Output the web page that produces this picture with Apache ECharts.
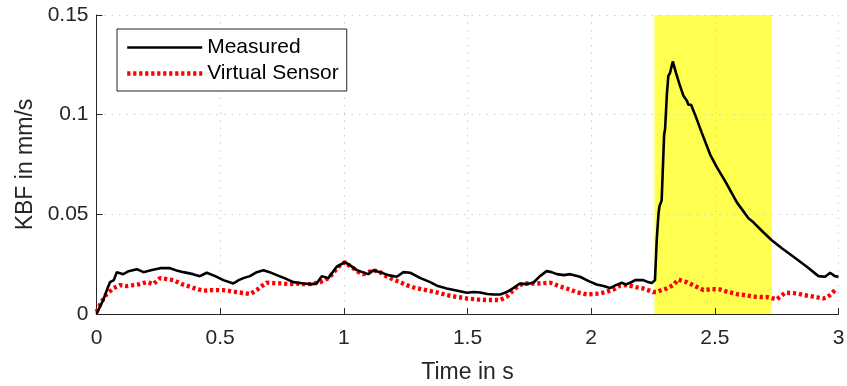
<!DOCTYPE html>
<html>
<head>
<meta charset="utf-8">
<script src="https://cdn.jsdelivr.net/npm/echarts@6/dist/echarts.min.js"></script>
<style>
html,body{margin:0;padding:0;background:#fff;}
#chart{width:847px;height:386px;}
</style>
</head>
<body>
<div id="chart"></div>
<script>
const xTicks = [0, 0.5, 1, 1.5, 2, 2.5, 3];
const yTicks = [0, 0.05, 0.1, 0.15];
const seriesNames = ['Measured', 'Virtual Sensor'];
const highlightRange = [2.256, 2.729];

const measuredT = [0,0.027,0.045,0.055,0.07,0.082,0.108,0.13,0.163,0.19,0.22,0.257,0.297,0.32,0.351,0.39,0.418,0.446,0.48,0.513,0.553,0.575,0.594,0.62,0.648,0.675,0.70,0.729,0.76,0.796,0.836,0.870,0.890,0.911,0.937,0.955,0.971,1.005,1.03,1.052,1.075,1.099,1.119,1.146,1.18,1.214,1.241,1.268,1.31,1.349,1.38,1.416,1.46,1.497,1.525,1.551,1.58,1.605,1.632,1.659,1.685,1.712,1.74,1.766,1.793,1.82,1.84,1.861,1.89,1.915,1.955,1.99,2.022,2.05,2.076,2.1,2.124,2.14,2.16,2.178,2.211,2.23,2.245,2.258,2.265,2.272,2.276,2.285,2.292,2.295,2.299,2.306,2.312,2.319,2.33,2.343,2.357,2.373,2.387,2.393,2.404,2.42,2.447,2.481,2.508,2.548,2.589,2.636,2.656,2.696,2.73,2.771,2.818,2.872,2.919,2.946,2.966,2.985,3.0];
const measuredV = [0,0.007,0.013,0.016,0.017,0.021,0.020,0.0215,0.0225,0.021,0.022,0.023,0.023,0.022,0.021,0.020,0.019,0.0207,0.019,0.017,0.0153,0.017,0.018,0.019,0.021,0.022,0.021,0.0195,0.018,0.016,0.0153,0.015,0.0153,0.019,0.018,0.021,0.0237,0.026,0.024,0.022,0.021,0.020,0.022,0.021,0.0195,0.0187,0.021,0.0207,0.018,0.016,0.014,0.0128,0.0117,0.0107,0.011,0.0108,0.010,0.0098,0.0098,0.011,0.013,0.0153,0.015,0.0157,0.019,0.0215,0.021,0.020,0.0195,0.020,0.0187,0.0165,0.0148,0.014,0.013,0.0145,0.0157,0.0148,0.0158,0.017,0.017,0.016,0.0155,0.017,0.037,0.050,0.054,0.057,0.080,0.090,0.093,0.110,0.1195,0.121,0.1267,0.121,0.1153,0.1095,0.107,0.105,0.105,0.100,0.091,0.080,0.0737,0.0653,0.056,0.048,0.046,0.041,0.037,0.033,0.0287,0.0237,0.019,0.0187,0.0207,0.019,0.0187];

const virtualT = [0,0.02,0.041,0.07,0.095,0.12,0.149,0.175,0.203,0.23,0.257,0.285,0.311,0.345,0.378,0.405,0.432,0.47,0.513,0.54,0.567,0.595,0.621,0.648,0.668,0.688,0.72,0.755,0.78,0.809,0.835,0.863,0.885,0.904,0.925,0.944,0.96,0.978,1.005,1.02,1.038,1.06,1.079,1.1,1.119,1.146,1.17,1.2,1.227,1.254,1.29,1.321,1.37,1.416,1.46,1.497,1.54,1.578,1.605,1.632,1.659,1.685,1.705,1.726,1.75,1.78,1.81,1.834,1.87,1.901,1.94,1.982,2.01,2.036,2.06,2.09,2.117,2.144,2.18,2.211,2.251,2.265,2.285,2.305,2.332,2.352,2.37,2.387,2.42,2.454,2.49,2.521,2.555,2.589,2.62,2.656,2.685,2.71,2.735,2.75,2.768,2.784,2.81,2.831,2.86,2.885,2.915,2.939,2.955,2.966,2.986,2.995];
const virtualV = [0.001,0.006,0.010,0.013,0.0145,0.014,0.0145,0.015,0.016,0.015,0.018,0.0175,0.017,0.015,0.0137,0.0125,0.0117,0.012,0.012,0.0115,0.011,0.0105,0.010,0.012,0.014,0.0157,0.0155,0.0153,0.015,0.0153,0.015,0.015,0.0155,0.016,0.017,0.0187,0.021,0.0237,0.026,0.0245,0.023,0.021,0.020,0.021,0.022,0.021,0.019,0.0173,0.016,0.0145,0.013,0.0123,0.011,0.0095,0.0085,0.0078,0.0073,0.007,0.007,0.007,0.0087,0.012,0.014,0.0153,0.0153,0.0153,0.0155,0.0157,0.014,0.0128,0.011,0.0098,0.010,0.0103,0.011,0.0123,0.0142,0.0145,0.0135,0.0128,0.011,0.011,0.012,0.0128,0.0145,0.0173,0.0165,0.016,0.014,0.012,0.0125,0.0123,0.011,0.010,0.0095,0.0087,0.0085,0.0085,0.0078,0.0073,0.009,0.0107,0.0105,0.0103,0.0095,0.009,0.0083,0.0078,0.0085,0.0095,0.012,0.0115];

const FONT = '"Liberation Sans", Arial, Helvetica, sans-serif';
const AXIS_COLOR = '#262626';
const GRID_COLOR = '#cfcfcf';
const MEAS_STYLE = { color: '#000000', width: 2.6, type: 'solid' };
const VIRT_STYLE = { color: '#ff0000', width: 4.4, type: [3.2, 2.8], cap: 'butt' };

function pairs(t, v) { return t.map((x, i) => [x, v[i]]); }

const gridLine = { show: true, lineStyle: { color: GRID_COLOR, width: 1, type: [1.5, 6] } };

const chart = echarts.init(document.getElementById('chart'), null, { renderer: 'canvas' });
chart.setOption({
  animation: false,
  backgroundColor: '#ffffff',
  grid: { left: 96.5, right: 8.5, top: 15, bottom: 72, containLabel: false, outerBoundsMode: 'none' },
  legend: {
    data: [
      { name: seriesNames[0], lineStyle: MEAS_STYLE, itemStyle: { opacity: 0, borderWidth: 0 } },
      { name: seriesNames[1], lineStyle: VIRT_STYLE, itemStyle: { opacity: 0, borderWidth: 0 } }
    ],
    orient: 'vertical',
    left: 117, top: 29,
    padding: [8, 8, 7, 8],
    itemWidth: 75, itemHeight: 12, itemGap: 5,
    borderColor: AXIS_COLOR, borderWidth: 1,
    backgroundColor: '#ffffff',
    itemStyle: { opacity: 0, borderWidth: 0 },
    textStyle: { fontFamily: FONT, fontSize: 21, color: '#000', padding: [0, 0, 0, 0] },
    selectedMode: false
  },
  xAxis: [{
    type: 'value', min: 0, max: 3, interval: 0.5,
    name: 'Time in s', nameLocation: 'middle', nameGap: 47,
    nameTextStyle: { fontFamily: FONT, fontSize: 23, color: AXIS_COLOR },
    axisLine: { show: true, onZero: false, lineStyle: { color: AXIS_COLOR, width: 1 } },
    axisTick: { show: true, inside: true, length: 6, lineStyle: { color: AXIS_COLOR } },
    axisLabel: { fontFamily: FONT, fontSize: 21, color: AXIS_COLOR, margin: 14,
      formatter: v => String(xTicks.find(t => Math.abs(t - v) < 1e-9) ?? v) },
    splitLine: gridLine, z: 2
  }],
  yAxis: [{
    type: 'value', min: 0, max: 0.15, interval: 0.05,
    name: 'KBF in mm/s', nameLocation: 'middle', nameGap: 58,
    nameTextStyle: { fontFamily: FONT, fontSize: 23, color: AXIS_COLOR },
    axisLine: { show: true, lineStyle: { color: AXIS_COLOR, width: 1 } },
    axisTick: { show: true, inside: true, length: 6, lineStyle: { color: AXIS_COLOR } },
    axisLabel: { fontFamily: FONT, fontSize: 21, color: AXIS_COLOR, margin: 8,
      formatter: v => String(yTicks.find(t => Math.abs(t - v) < 1e-9) ?? v) },
    splitLine: gridLine, z: 2
  }],
  series: [
    {
      name: '__highlight', type: 'line', data: [], z: 1, silent: true,
      markArea: {
        silent: true,
        itemStyle: { color: '#ffff4f', opacity: 1 },
        data: [[{ xAxis: highlightRange[0] }, { xAxis: highlightRange[1] }]]
      }
    },
    {
      name: seriesNames[0], type: 'line', data: pairs(measuredT, measuredV),
      showSymbol: false, symbol: 'none', z: 4,
      lineStyle: MEAS_STYLE, itemStyle: { color: '#000000' }
    },
    {
      name: seriesNames[1], type: 'line', data: pairs(virtualT, virtualV),
      showSymbol: false, symbol: 'none', z: 3,
      lineStyle: VIRT_STYLE, itemStyle: { color: '#ff0000' }
    }
  ]
});
</script>
</body>
</html>
